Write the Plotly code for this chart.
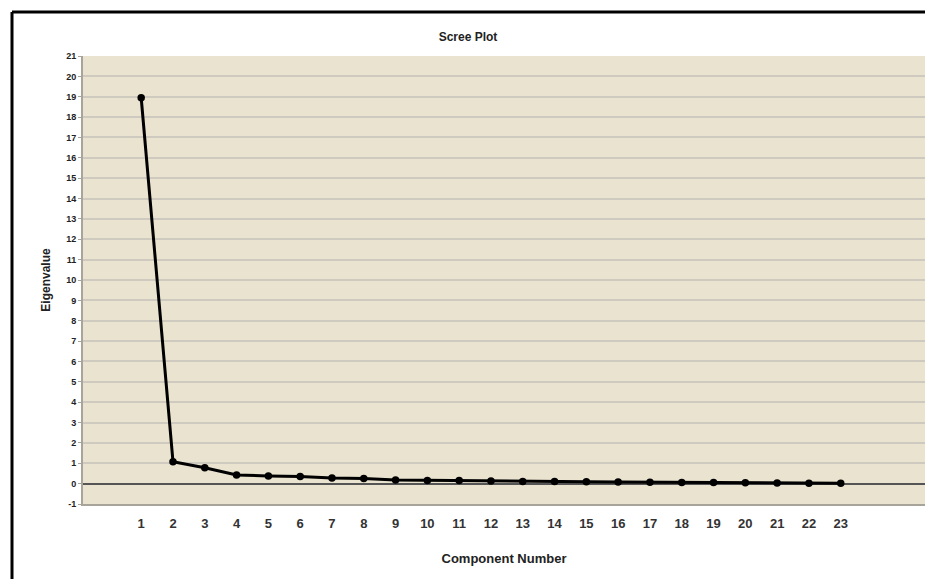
import plotly.graph_objects as go

components = list(range(1, 24))
eigenvalues = [18.95, 1.08, 0.78, 0.42, 0.38, 0.35, 0.28, 0.25, 0.18, 0.16, 0.15,
               0.13, 0.11, 0.10, 0.09, 0.08, 0.07, 0.06, 0.05, 0.04, 0.03, 0.02, 0.02]
y_ticks = list(range(-1, 22))

W, H = 925, 579
ML, MR, MT, MB = 83, 0, 56, 75
pw, ph = W - ML - MR, H - MT - MB
FRAME = 12

fig = go.Figure()
fig.add_trace(go.Scatter(
    x=components, y=eigenvalues, mode="lines+markers",
    line=dict(color="black", width=3),
    marker=dict(color="black", size=7.5),
    showlegend=False, cliponaxis=False,
))

font = "Liberation Sans, Arial, sans-serif"
fig.update_layout(
    width=W, height=H,
    margin=dict(l=ML, r=MR, t=MT, b=MB),
    paper_bgcolor="white",
    plot_bgcolor="#EAE3CF",
    title=dict(text="<b>Scree Plot</b>", x=(468 - ML) / pw, xref="paper", xanchor="center",
               y=1 - 37 / H, yanchor="middle",
               font=dict(family=font, size=12, color="#222")),
    xaxis=dict(
        range=[-0.83, 25.65], tickvals=components,
        ticktext=["<b>%d</b>" % c for c in components],
        showgrid=False, zeroline=False, showline=True, linecolor="#A8A49A", linewidth=2,
        ticks="", ticklabelstandoff=6, tickfont=dict(family=font, size=13, color="#333"),
        title=dict(text="<b>Component Number</b>", font=dict(family=font, size=13, color="#222"),
                   standoff=24),
        fixedrange=True,
    ),
    yaxis=dict(
        range=[-1, 21], tickvals=y_ticks, ticktext=["<b>%d</b>" % v for v in y_ticks],
        showgrid=True, gridcolor="#CFCAC0", gridwidth=2,
        zeroline=True, zerolinecolor="#555555", zerolinewidth=1.5,
        showline=True, linecolor="#A8A49A", linewidth=2,
        ticks="outside", ticklen=3, tickcolor="#A8A49A",
        tickfont=dict(family=font, size=9, color="#222"),
        title=dict(text="<b>Eigenvalue</b>", font=dict(family=font, size=12, color="#222"),
                   standoff=13),
        fixedrange=True,
    ),
    shapes=[
        dict(type="line", xref="paper", yref="paper",
             x0=(FRAME - ML) / pw, x1=(FRAME - ML) / pw,
             y0=1 + (MT - FRAME) / ph, y1=-(MB + 5) / ph,
             line=dict(color="black", width=3)),
        dict(type="line", xref="paper", yref="paper",
             x0=(FRAME - ML) / pw, x1=1.01,
             y0=1 + (MT - FRAME) / ph, y1=1 + (MT - FRAME) / ph,
             line=dict(color="black", width=3)),
    ],
)

fig.write_html(
    "out.html",
    config={"displayModeBar": False},
    post_script="document.body.style.margin='0';document.body.style.overflow='hidden';",
)
